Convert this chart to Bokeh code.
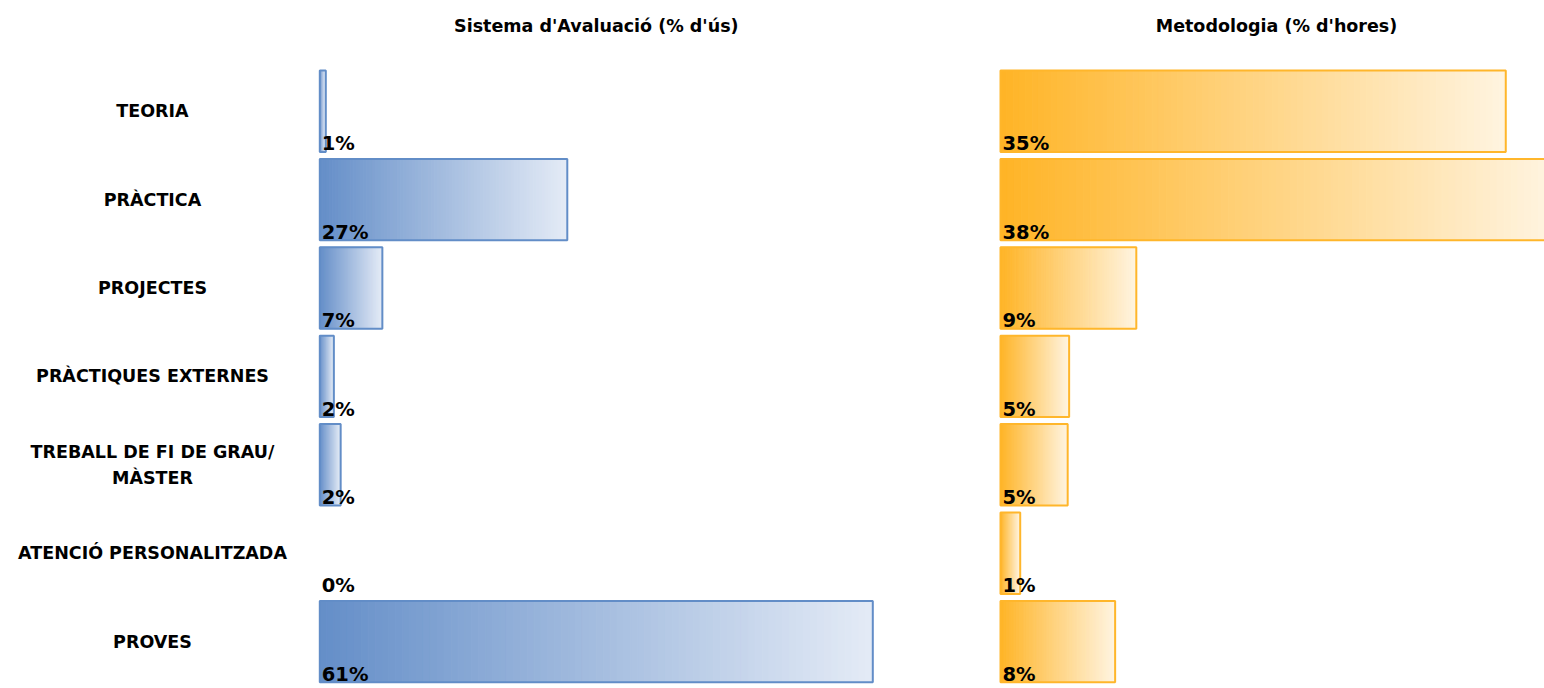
from bokeh.plotting import figure
from bokeh.models import ColumnDataSource, Range1d
from bokeh.core.properties import value
from bokeh.embed import file_html
from bokeh.resources import INLINE

# ---------------- data ----------------
categories = ["TEORIA", "PRÀCTICA", "PROJECTES", "PRÀCTIQUES EXTERNES",
              "TREBALL DE FI DE GRAU/\nMÀSTER", "ATENCIÓ PERSONALITZADA", "PROVES"]
avaluacio = [0.66, 27.3, 6.9, 1.55, 2.3, 0.0, 61.0]
metodologia = [34.6, 37.8, 9.3, 4.7, 4.6, 1.35, 7.85]
avaluacio_labels = ["1%", "27%", "7%", "2%", "2%", "0%", "61%"]
metodologia_labels = ["35%", "38%", "9%", "5%", "5%", "1%", "8%"]
titles = ["Sistema d'Avaluació (% d'ús)", "Metodologia (% d'hores)"]

# ---------------- layout / style ----------------
W, H = 1544, 688
LEFT_X0, LEFT_W = 319.3, 553.0   # px where left panel starts, px for its max value
RIGHT_X0, RIGHT_W = 1000, 552    # same for right panel
ROW_H = 88.4                     # px per row
BAR_H = 81.4                     # px bar height
ROW_TOP = 70 - (ROW_H - BAR_H) / 2   # px of first row band top
TITLE_Y = 25                     # px of title centre
LABEL_CX = 152                   # px of category label centre
BAR_HALF = BAR_H / (2 * ROW_H)
N_SLICES = 80
FONT = value("DejaVu Sans")

BLUE0, BLUE1, BLUE_LINE = (100, 142, 200), (228, 235, 246), "#628DC7"
ORG0, ORG1, ORG_LINE = (255, 180, 38), (255, 244, 224), "#FFB62B"

sL = LEFT_W / max(avaluacio)
sR = RIGHT_W / max(metodologia)

y_start = (H - ROW_TOP) / ROW_H - 0.5
y_end = -ROW_TOP / ROW_H - 0.5

p = figure(width=W, height=H, output_backend="svg", toolbar_location=None,
           x_range=Range1d(-LEFT_X0 / sL, (W - LEFT_X0) / sL),
           y_range=Range1d(y_start, y_end),
           x_axis_location=None, y_axis_location=None,
           min_border=0, outline_line_color=None)
p.extra_x_ranges = {"met": Range1d(-RIGHT_X0 / sR, (W - RIGHT_X0) / sR)}
p.xgrid.visible = False
p.ygrid.visible = False
p.background_fill_color = "white"
p.border_fill_color = "white"


def hexcol(c0, c1, t):
    r = [round(a + (b - a) * t) for a, b in zip(c0, c1)]
    return "#%02x%02x%02x" % tuple(r)


def draw_panel(values, labels, c0, c1, line_col, range_name):
    sl = dict(left=[], right=[], top=[], bottom=[], color=[])
    ol = dict(left=[], right=[], top=[], bottom=[])
    for i, v in enumerate(values):
        if v <= 0:
            continue
        for k in range(N_SLICES):
            sl["left"].append(v * k / N_SLICES)
            sl["right"].append(v * (k + 1) / N_SLICES)
            sl["top"].append(i - BAR_HALF)
            sl["bottom"].append(i + BAR_HALF)
            sl["color"].append(hexcol(c0, c1, (k + 0.5) / N_SLICES))
        ol["left"].append(0)
        ol["right"].append(v)
        ol["top"].append(i - BAR_HALF)
        ol["bottom"].append(i + BAR_HALF)
    kw = {} if range_name is None else {"x_range_name": range_name}
    p.quad(left="left", right="right", top="top", bottom="bottom",
           fill_color="color", line_color="color", line_width=1,
           source=ColumnDataSource(sl), **kw)
    p.quad(left="left", right="right", top="top", bottom="bottom",
           fill_color=None, line_color=line_col, line_width=2,
           source=ColumnDataSource(ol), **kw)
    lab = ColumnDataSource(dict(x=[0] * len(values),
                                y=[i + BAR_HALF for i in range(len(values))],
                                t=labels))
    p.text(x="x", y="y", text="t", source=lab, x_offset=2, y_offset=-8,
           text_font=FONT, text_font_style="bold", text_font_size="19.5px",
           text_color="black", text_baseline="alphabetic", text_align="left", **kw)


draw_panel(avaluacio, avaluacio_labels, BLUE0, BLUE1, BLUE_LINE, None)
draw_panel(metodologia, metodologia_labels, ORG0, ORG1, ORG_LINE, "met")

# category labels
cat_src = ColumnDataSource(dict(x=[(LABEL_CX - LEFT_X0) / sL] * len(categories),
                                y=list(range(len(categories))),
                                t=categories))
p.text(x="x", y="y", text="t", source=cat_src, text_font=FONT,
       text_font_style="bold", text_font_size="17.5px", text_color="black",
       text_align="center", text_baseline="middle", text_line_height=1.3)

# panel titles
ty = y_end + TITLE_Y / ROW_H
p.text(x=[max(avaluacio) / 2], y=[ty], text=[titles[0]], text_font=FONT,
       text_font_style="bold", text_font_size="17.5px", text_color="black",
       text_align="center", text_baseline="middle")
p.text(x=[max(metodologia) / 2], y=[ty], text=[titles[1]], text_font=FONT,
       text_font_style="bold", text_font_size="17.5px", text_color="black",
       text_align="center", text_baseline="middle", x_range_name="met")

open("out.html", "w").write(file_html(p, INLINE))
